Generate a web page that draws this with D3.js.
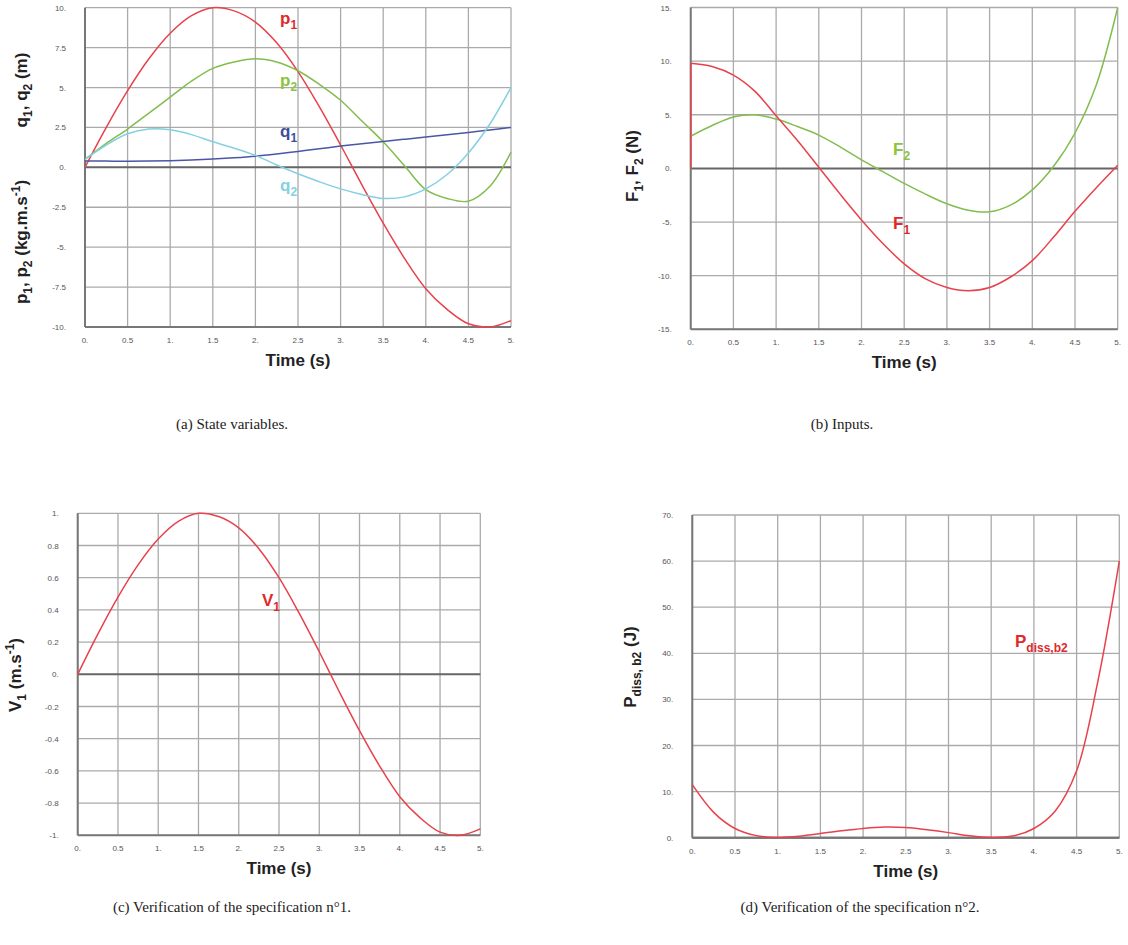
<!DOCTYPE html>
<html>
<head>
<meta charset="utf-8">
<script src="https://cdn.jsdelivr.net/npm/d3@7"></script>
<style>
  body { margin: 0; background: #fff; }
  svg text { font-family: Arial, "Liberation Sans", sans-serif; }
  .tick-lbl { font-size: 8px; fill: #555; }
  .axis-title { font-size: 17px; font-weight: bold; fill: #222; }
  .series-lbl { font-size: 17px; font-weight: bold; }
  .caption { font-family: "Liberation Serif", "Times New Roman", serif; font-size: 15px; fill: #222; }
</style>
</head>
<body>
<div class="figure"></div>
<script>
(function() {
  'use strict';

  // Time samples (s)
  const TIME = [0, 0.25, 0.5, 0.75, 1, 1.25, 1.5, 1.75, 2, 2.25, 2.5,
                2.75, 3, 3.25, 3.5, 3.75, 4, 4.25, 4.5, 4.75, 5];
  const TIME_TICKS = [0, 0.5, 1, 1.5, 2, 2.5, 3, 3.5, 4, 4.5, 5];

  // (a) state variables
  const P1 = [0, 2.5, 4.8, 6.8, 8.4, 9.5, 10, 9.8, 9.1, 7.8, 6.0,
              3.8, 1.4, -1.1, -3.5, -5.7, -7.6, -8.9, -9.8, -10, -9.6];
  const P2 = [0.5, 1.5, 2.4, 3.4, 4.4, 5.4, 6.2, 6.6, 6.8, 6.6, 6.05,
              5.2, 4.2, 2.9, 1.6, 0.1, -1.4, -1.95, -2.12, -1.2, 0.95];
  const Q1 = [0.4, 0.39, 0.38, 0.39, 0.42, 0.46, 0.52, 0.6, 0.7, 0.84, 1.0,
              1.16, 1.33, 1.48, 1.62, 1.76, 1.9, 2.04, 2.18, 2.34, 2.5];
  const Q2 = [0.5, 1.4, 2.1, 2.4, 2.35, 2.05, 1.6, 1.2, 0.75, 0.15, -0.4,
              -0.9, -1.35, -1.7, -1.95, -1.85, -1.35, -0.45, 0.9, 2.7, 5.0];
  const TICKS_A = [-10, -7.5, -5, -2.5, 0, 2.5, 5, 7.5, 10];

  // (b) inputs
  const F1_JUMP = [0, 9.8];
  const F1 = [9.8, 9.5, 8.7, 7.2, 4.9, 2.6, 0.1, -2.4, -4.8, -7.0, -8.9,
              -10.3, -11.1, -11.4, -11.1, -10.1, -8.6, -6.4, -4.0, -1.8, 0.3];
  const F2 = [3.0, 4.0, 4.8, 5.0, 4.6, 3.9, 3.1, 2.0, 0.8, -0.3, -1.4,
              -2.4, -3.3, -3.9, -4.05, -3.4, -2.0, 0.2, 3.3, 7.8, 15];
  const TICKS_B = [-15, -10, -5, 0, 5, 10, 15];

  // (c) specification 1
  const V1 = [0, 0.25, 0.48, 0.68, 0.84, 0.95, 1.0, 0.98, 0.91, 0.78, 0.6,
              0.38, 0.14, -0.11, -0.35, -0.57, -0.76, -0.89, -0.98, -1.0, -0.96];
  const TICKS_C = [-1, -0.8, -0.6, -0.4, -0.2, 0, 0.2, 0.4, 0.6, 0.8, 1];

  // (d) specification 2
  const PDISS = [11.5, 5.5, 2.0, 0.45, 0.05, 0.3, 0.9, 1.5, 2.0, 2.3, 2.2,
                 1.7, 1.1, 0.4, 0.05, 0.35, 2.0, 5.8, 14.5, 34, 60];
  const TICKS_D = [0, 10, 20, 30, 40, 50, 60, 70];

  const RED = '#e8414b', GREEN = '#82bd4e', BLUE = '#4a56a6', CYAN = '#84d0e2';

  const svg = d3.select('.figure')
    .append('svg')
    .attr('width', 1128)
    .attr('height', 945);

  const fmt = function(v) {
    return Number.isInteger(v) ? v + '.' : String(v);
  };

  // text with sub / superscript parts: [[text, 'sub'|'sup'|null], ...]
  function richText(sel, parts, big, small) {
    let prev = null;
    parts.forEach(function(p) {
      const kind = p[1] || 'n';
      const t = sel.append('tspan').text(p[0]);
      let dy = 0;
      if (prev === 'sub') dy -= big * 0.3;
      if (prev === 'sup') dy += big * 0.4;
      if (kind === 'sub') dy += big * 0.3;
      if (kind === 'sup') dy -= big * 0.4;
      t.attr('font-size', kind === 'n' ? big : small);
      if (dy) t.attr('dy', dy);
      prev = kind;
    });
  }

  function panel(cfg) {
    const g = svg.append('g');
    const x = d3.scaleLinear().domain([0, 5]).range([cfg.left, cfg.right]);
    const y = d3.scaleLinear().domain(cfg.yDomain).range([cfg.bottom, cfg.top]);

    // grid
    g.selectAll('.vgrid').data(TIME_TICKS).enter().append('line')
      .attr('x1', d => x(d)).attr('x2', d => x(d))
      .attr('y1', cfg.top).attr('y2', cfg.bottom)
      .attr('stroke', '#aaa').attr('stroke-width', 1.3);
    g.selectAll('.hgrid').data(cfg.yTicks).enter().append('line')
      .attr('x1', cfg.left).attr('x2', cfg.right)
      .attr('y1', d => y(d)).attr('y2', d => y(d))
      .attr('stroke', d => d === 0 ? '#666' : '#aaa')
      .attr('stroke-width', d => d === 0 ? 2 : 1.3);

    // frame: bottom and left darker
    g.append('line').attr('x1', cfg.left).attr('x2', cfg.right)
      .attr('y1', cfg.bottom).attr('y2', cfg.bottom)
      .attr('stroke', '#777').attr('stroke-width', 2);
    g.append('line').attr('x1', cfg.left).attr('x2', cfg.left)
      .attr('y1', cfg.top).attr('y2', cfg.bottom)
      .attr('stroke', '#777').attr('stroke-width', 2);

    // tick labels
    g.selectAll('.xl').data(TIME_TICKS).enter().append('text')
      .attr('class', 'tick-lbl')
      .attr('x', d => x(d)).attr('y', cfg.bottom + 16)
      .attr('text-anchor', 'middle')
      .text(fmt);
    g.selectAll('.yl').data(cfg.yTicks).enter().append('text')
      .attr('class', 'tick-lbl')
      .attr('x', cfg.left - 19).attr('y', d => y(d) + 3)
      .attr('text-anchor', 'end')
      .text(fmt);

    // x title
    g.append('text').attr('class', 'axis-title')
      .attr('x', (cfg.left + cfg.right) / 2).attr('y', cfg.bottom + 39)
      .attr('text-anchor', 'middle')
      .text('Time (s)');

    // y titles
    cfg.yTitles.forEach(function(yt) {
      const t = g.append('text').attr('class', 'axis-title')
        .attr('text-anchor', 'middle')
        .attr('transform', 'translate(' + yt.x + ',' + yt.y + ') rotate(-90)');
      richText(t, yt.parts, 17, 12);
    });

    // series
    const line = d3.line()
      .x((d, i) => x(TIME[i]))
      .y(d => y(d))
      .curve(d3.curveCatmullRom.alpha(0.5));
    cfg.series.forEach(function(s) {
      if (s.jump) {
        g.append('path')
          .attr('d', d3.line().x(() => x(0)).y(d => y(d))(s.jump))
          .attr('fill', 'none').attr('stroke', s.color).attr('stroke-width', 1.5);
      }
      g.append('path')
        .attr('d', line(s.values))
        .attr('fill', 'none')
        .attr('stroke', s.color)
        .attr('stroke-width', 1.5);
      const t = g.append('text').attr('class', 'series-lbl')
        .attr('x', s.lx).attr('y', s.ly)
        .attr('fill', s.labelColor || s.color);
      richText(t, s.label, 17, s.subSize || 12);
    });

    // caption
    svg.append('text').attr('class', 'caption')
      .attr('x', cfg.capX).attr('y', cfg.capY)
      .attr('text-anchor', 'middle')
      .text(cfg.caption);
  }

  panel({
    left: 85, right: 511, top: 7.7, bottom: 327,
    yDomain: [-10, 10], yTicks: TICKS_A,
    yTitles: [
      { x: 27, y: 90, parts: [['q', null], ['1', 'sub'], [', q', null], ['2', 'sub'], [' (m)', null]] },
      { x: 27, y: 242, parts: [['p', null], ['1', 'sub'], [', p', null], ['2', 'sub'], [' (kg.m.s', null], ['-1', 'sup'], [')', null]] }
    ],
    series: [
      { values: P1, color: RED, labelColor: '#e02a2a', lx: 280, ly: 24, label: [['p', null], ['1', 'sub']] },
      { values: P2, color: GREEN, labelColor: '#8cc43c', lx: 280, ly: 86, label: [['p', null], ['2', 'sub']] },
      { values: Q1, color: BLUE, labelColor: '#3c4ea0', lx: 280, ly: 137, label: [['q', null], ['1', 'sub']] },
      { values: Q2, color: CYAN, labelColor: '#84d0e2', lx: 280, ly: 191, label: [['q', null], ['2', 'sub']] }
    ],
    caption: '(a)  State variables.', capX: 232, capY: 429
  });

  panel({
    left: 690.7, right: 1117.7, top: 7.5, bottom: 329.3,
    yDomain: [-15, 15], yTicks: TICKS_B,
    yTitles: [
      { x: 638, y: 166, parts: [['F', null], ['1', 'sub'], [', F', null], ['2', 'sub'], [' (N)', null]] }
    ],
    series: [
      { values: F2, color: GREEN, labelColor: '#8cc43c', lx: 893, ly: 155, label: [['F', null], ['2', 'sub']] },
      { values: F1, jump: F1_JUMP, color: RED, labelColor: '#e02a2a', lx: 893, ly: 229, label: [['F', null], ['1', 'sub']] }
    ],
    caption: '(b)  Inputs.', capX: 842, capY: 429
  });

  panel({
    left: 77.7, right: 480.3, top: 513.3, bottom: 835.3,
    yDomain: [-1, 1], yTicks: TICKS_C,
    yTitles: [
      { x: 21, y: 675, parts: [['V', null], ['1', 'sub'], [' (m.s', null], ['-1', 'sup'], [')', null]] }
    ],
    series: [
      { values: V1, color: RED, labelColor: '#e02a2a', lx: 262, ly: 606, label: [['V', null], ['1', 'sub']] }
    ],
    caption: '(c)  Verification of the specification n\u00b01.', capX: 232, capY: 912
  });

  panel({
    left: 692.3, right: 1119.3, top: 515, bottom: 837.7,
    yDomain: [0, 70], yTicks: TICKS_D,
    yTitles: [
      { x: 636, y: 667, parts: [['P', null], ['diss, b2', 'sub'], [' (J)', null]] }
    ],
    series: [
      { values: PDISS, color: RED, labelColor: '#e02a2a', lx: 1015, ly: 647, subSize: 12, label: [['P', null], ['diss,b2', 'sub']] }
    ],
    caption: '(d)  Verification of the specification n\u00b02.', capX: 860, capY: 912
  });
})();
</script>
</body>
</html>
